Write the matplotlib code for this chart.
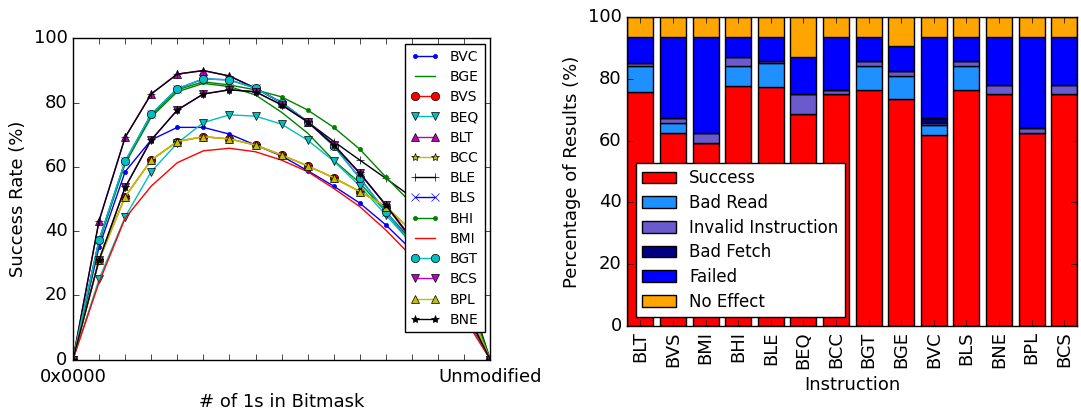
import numpy as np
import matplotlib
matplotlib.use("Agg")
import matplotlib.pyplot as plt

plt.style.use('classic')
plt.rcParams['font.family'] = ['DejaVu Sans']

# ---- left panel: success rate vs number of 1s in bitmask ----
bit_counts = list(range(17))
bvc = [0, 35.0, 58.5, 68.4, 72.3, 72.3, 70.2, 66.8, 63.4, 58.8, 54.0, 48.7, 41.9, 34.0, 25.0, 14.5, 0]
bge = [0, 36.5, 61.0, 75.5, 83.4, 86.0, 85.0, 82.4, 77.0, 70.5, 62.0, 55.0, 46.0, 37.0, 27.0, 16.0, 0]
bvs = [0, 31.0, 50.7, 62.1, 67.9, 69.4, 68.7, 66.8, 63.7, 60.3, 56.6, 52.3, 47.6, 40.0, 31.0, 19.0, 0]
beq = [0, 25.0, 44.4, 58.5, 67.4, 73.8, 76.2, 75.8, 73.3, 68.3, 61.8, 54.0, 45.0, 36.0, 26.0, 15.0, 0]
blt = [0, 43.2, 69.2, 82.7, 88.9, 90.0, 88.3, 84.5, 80.0, 74.0, 67.0, 58.0, 48.0, 37.0, 27.0, 16.0, 0]
bcc = [0, 31.0, 50.7, 62.1, 67.9, 69.4, 68.7, 66.8, 63.7, 60.3, 56.6, 52.3, 47.6, 40.0, 31.0, 19.0, 0]
ble = [0, 43.2, 69.2, 82.7, 88.9, 90.0, 88.3, 84.5, 80.0, 74.0, 67.9, 62.1, 56.4, 50.5, 40.0, 25.0, 0]
bls = [0, 37.2, 61.7, 76.4, 84.3, 87.4, 87.1, 84.5, 80.0, 74.1, 66.5, 56.5, 46.0, 36.0, 26.0, 15.5, 0]
bhi = [0, 37.0, 61.5, 76.0, 84.0, 86.5, 85.5, 84.0, 81.8, 77.7, 72.3, 65.5, 56.8, 48.5, 37.0, 23.0, 0]
bmi = [0, 24.0, 44.0, 54.0, 61.3, 65.0, 65.8, 64.7, 62.1, 58.5, 53.3, 47.6, 40.3, 32.0, 23.0, 13.0, 0]
bgt = [0, 37.2, 61.7, 76.4, 84.3, 87.4, 87.1, 84.5, 80.0, 74.1, 66.5, 56.5, 46.0, 36.0, 26.0, 15.5, 0]
bcs = [0, 31.0, 53.6, 68.4, 77.7, 82.7, 84.0, 83.4, 79.3, 74.0, 66.8, 58.0, 48.1, 37.5, 27.0, 16.0, 0]
bpl = [0, 31.0, 50.7, 62.1, 67.9, 69.4, 68.7, 66.8, 63.7, 60.3, 56.6, 52.3, 47.6, 40.0, 31.0, 19.0, 0]
bne = [0, 31.0, 53.6, 68.4, 77.7, 82.7, 84.0, 83.4, 79.3, 74.0, 66.8, 58.0, 48.1, 37.5, 27.0, 16.0, 0]

# ---- right panel: outcome breakdown per instruction ----
instructions = ['BLT', 'BVS', 'BMI', 'BHI', 'BLE', 'BEQ', 'BCC', 'BGT', 'BGE', 'BVC', 'BLS', 'BNE', 'BPL', 'BCS']
success      = [75.9, 62.4, 59.4, 77.8, 77.3, 68.6, 75.0, 76.4, 73.4, 61.7, 76.4, 75.0, 62.4, 75.0]
bad_read     = [8.4, 3.2, 0.0, 6.5, 7.8, 0.0, 0.0, 7.9, 7.7, 3.3, 7.9, 0.0, 0.0, 0.0]
invalid_inst = [0.8, 1.7, 3.0, 2.9, 0.7, 6.4, 1.4, 1.5, 1.6, 0.6, 1.5, 3.1, 1.6, 3.1]
bad_fetch    = [0.0, 0.0, 0.0, 0.0, 0.0, 0.0, 0.0, 0.0, 0.0, 1.7, 0.0, 0.0, 0.0, 0.0]
failed       = [8.6, 26.4, 31.3, 6.5, 7.9, 12.2, 17.3, 7.9, 8.0, 26.4, 7.9, 15.6, 29.7, 15.6]
no_effect    = [6.3, 6.3, 6.3, 6.3, 6.3, 12.8, 6.3, 6.3, 9.3, 6.3, 6.3, 6.3, 6.3, 6.3]

fig = plt.figure(figsize=(10.81, 4.09), dpi=100, facecolor='white')

ax1 = fig.add_axes([0.0675, 0.121, 0.386, 0.785])
series = [
    ('BVC', bvc, 'b', '.'),
    ('BGE', bge, 'g', 'None'),
    ('BVS', bvs, 'r', 'o'),
    ('BEQ', beq, 'c', 'v'),
    ('BLT', blt, 'm', '^'),
    ('BCC', bcc, 'y', '*'),
    ('BLE', ble, 'k', '+'),
    ('BLS', bls, 'b', 'x'),
    ('BHI', bhi, 'g', '.'),
    ('BMI', bmi, 'r', 'None'),
    ('BGT', bgt, 'c', 'o'),
    ('BCS', bcs, 'm', 'v'),
    ('BPL', bpl, 'y', '^'),
    ('BNE', bne, 'k', '*'),
]
for name, vals, col, mk in series:
    mec = 'k' if mk in ('o', 'v', '^', '*') else col
    ax1.plot(bit_counts, vals, color=col, marker=mk, markersize=6,
             markeredgecolor=mec, markeredgewidth=0.5, linewidth=1.0, label=name)

ax1.set_xlim(0, 16)
ax1.set_ylim(0, 100)
ax1.set_xticks(bit_counts)
ax1.set_xticklabels(['0x0000'] + [''] * 15 + ['Unmodified'], fontsize=13)
ax1.set_yticks([0, 20, 40, 60, 80, 100])
ax1.tick_params(labelsize=13)
ax1.tick_params(axis='x', pad=6)
ax1.set_xlabel('# of 1s in Bitmask', fontsize=13)
ax1.set_ylabel('Success Rate (%)', fontsize=13)
ax1.legend(loc='upper right', fontsize=10, numpoints=2, fancybox=False,
           framealpha=1.0, borderaxespad=0.4, labelspacing=0.45)

ax2 = fig.add_axes([0.5803, 0.2034, 0.4163, 0.7543])
x = np.arange(len(instructions))
layers = [
    ('Success', success, '#FF0000'),
    ('Bad Read', bad_read, '#1E90FF'),
    ('Invalid Instruction', invalid_inst, '#6A5ACD'),
    ('Bad Fetch', bad_fetch, '#000080'),
    ('Failed', failed, '#0000FF'),
    ('No Effect', no_effect, '#FFA500'),
]
bottom = np.zeros(len(instructions))
for name, vals, col in layers:
    ax2.bar(x, vals, width=0.8, bottom=bottom, color=col, edgecolor='k',
            linewidth=1.0, align='center', label=name)
    bottom += np.array(vals)

ax2.set_xlim(-0.4, len(instructions) - 0.6)
ax2.set_ylim(0, 100)
ax2.set_xticks(x)
ax2.set_xticklabels(instructions, rotation=90, fontsize=13)
ax2.set_yticks([0, 20, 40, 60, 80, 100])
ax2.tick_params(labelsize=13)
ax2.set_xlabel('Instruction', fontsize=13)
ax2.set_ylabel('Percentage of Results (%)', fontsize=13)
ax2.legend(loc='lower left', fontsize=12, fancybox=False, framealpha=1.0,
           labelspacing=0.4)

fig.savefig('out.png', dpi=100, facecolor='white')
